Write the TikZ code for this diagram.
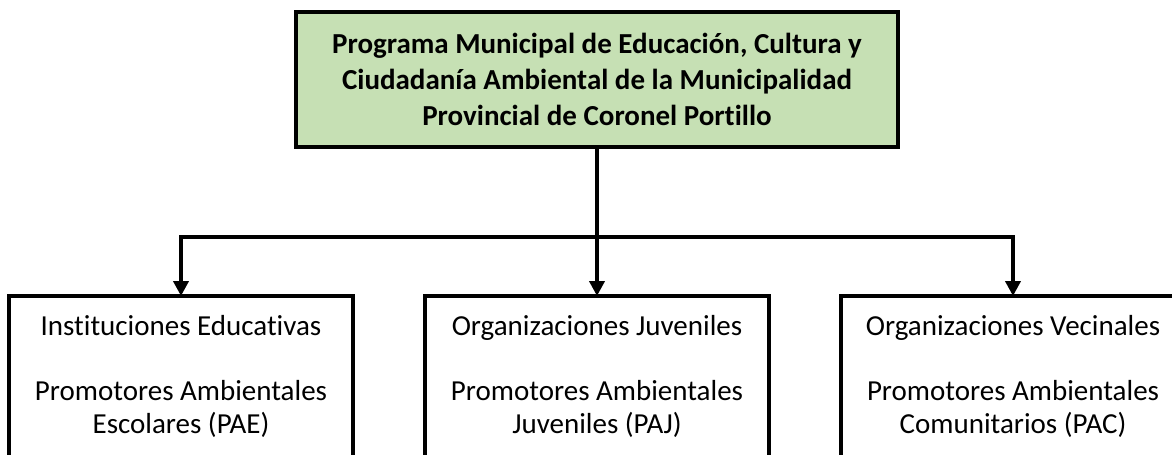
\documentclass[tikz,border=0pt]{standalone}
\usepackage{fontspec}
\setmainfont[Ligatures=CommonOff]{Carlito}
\usepackage{tikz}
\usetikzlibrary{arrows.meta, positioning, calc}
\definecolor{verdeprog}{HTML}{C6E0B4}

\begin{document}
\begin{tikzpicture}[
    node distance=2.98cm,
    progbox/.style={rectangle, draw, line width=2.6pt, fill=verdeprog, outer sep=0pt,
        minimum width=12.04cm, minimum height=2.70cm, align=center,
        font=\fontsize{16.5}{20.5}\selectfont\bfseries},
    grupobox/.style={rectangle, draw, line width=2.4pt, fill=white, outer sep=0pt,
        minimum width=6.88cm, align=center, inner ysep=0.38cm, text depth=1.2cm,
        font=\fontsize{16.5}{18.8}\selectfont},
    flecha/.style={-{Triangle[width=0.3cm, length=0.3cm]}, line width=2.2pt, black}
]
    % --- Page size ---
    \useasboundingbox (0,0) rectangle (23.44,-9.08);
    \clip (0,0) rectangle (23.44,-9.08);

    % --- Programa ---
    \node[progbox] (programa) at (11.94,-1.59)
        {Programa Municipal de Educación, Cultura y\\
         Ciudadanía Ambiental de la Municipalidad\\
         Provincial de Coronel Portillo};

    % --- Grupos ---
    \node[grupobox, below=of programa] (juvenil)
        {Organizaciones Juveniles\\[0.64cm]
         Promotores Ambientales\\ Juveniles (PAJ)};
    \node[grupobox, left=1.44cm of juvenil] (escolar)
        {Instituciones Educativas\\[0.64cm]
         Promotores Ambientales\\ Escolares (PAE)};
    \node[grupobox, right=1.44cm of juvenil] (vecinal)
        {Organizaciones Vecinales\\[0.64cm]
         Promotores Ambientales\\ Comunitarios (PAC)};

    % --- Conectores ---
    \coordinate[below=1.8cm of programa.south] (bus);
    \draw[flecha] (programa.south) -- (juvenil.north);
    \draw[flecha] (bus) -| (escolar.north);
    \draw[flecha] (bus) -| (vecinal.north);

\end{tikzpicture}
\end{document}
